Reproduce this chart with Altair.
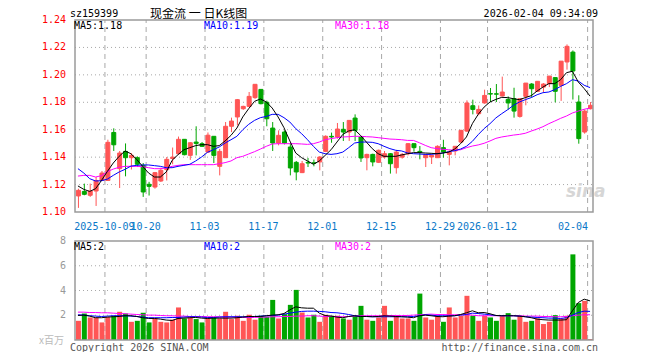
import altair as alt
import pandas as pd

# ---------------- data ----------------
opens = [1.1117, 1.1150, 1.1122, 1.1153, 1.1230, 1.1230, 1.1580, 1.1316, 1.1442, 1.1396,
         1.1396, 1.1340, 1.1202, 1.1182, 1.1226, 1.1309, 1.1390, 1.1425, 1.1530, 1.1413,
         1.1510, 1.1498, 1.1437, 1.1552, 1.1333, 1.1396, 1.1625, 1.1693, 1.1753, 1.1770,
         1.1834, 1.1894, 1.1800, 1.1612, 1.1503, 1.1583, 1.1474, 1.1362, 1.1287, 1.1362,
         1.1359, 1.1365, 1.1442, 1.1552, 1.1547, 1.1603, 1.1583, 1.1685, 1.1547, 1.1396,
         1.1420, 1.1362, 1.1401, 1.1425, 1.1323, 1.1400, 1.1425, 1.1498, 1.1442, 1.1396,
         1.1401, 1.1396, 1.1469, 1.1420, 1.1445, 1.1510, 1.1590, 1.1775, 1.1717, 1.1795,
         1.1863, 1.1862, 1.1846, 1.1821, 1.1826, 1.1697, 1.1843, 1.1933, 1.1880, 1.1911,
         1.1936, 1.1980, 1.1923, 1.2094, 1.2166, 1.1802, 1.1583, 1.1753]
closes = [1.1158, 1.1129, 1.1153, 1.1230, 1.1284, 1.1508, 1.1490, 1.1430, 1.1396, 1.1413,
          1.1348, 1.1146, 1.1187, 1.1287, 1.1304, 1.1384, 1.1400, 1.1530, 1.1418, 1.1505,
          1.1500, 1.1479, 1.1560, 1.1413, 1.1442, 1.1625, 1.1663, 1.1819, 1.1770, 1.1843,
          1.1931, 1.1790, 1.1680, 1.1503, 1.1559, 1.1503, 1.1321, 1.1292, 1.1352, 1.1357,
          1.1355, 1.1401, 1.1552, 1.1547, 1.1605, 1.1583, 1.1668, 1.1595, 1.1394, 1.1420,
          1.1365, 1.1450, 1.1425, 1.1352, 1.1437, 1.1420, 1.1498, 1.1469, 1.1435, 1.1418,
          1.1413, 1.1479, 1.1437, 1.1437, 1.1479, 1.1595, 1.1795, 1.1748, 1.1748, 1.1850,
          1.1860, 1.1859, 1.1875, 1.1795, 1.1736, 1.1826, 1.1940, 1.1899, 1.1953, 1.1933,
          1.1991, 1.1880, 1.2100, 1.2208, 1.2028, 1.1535, 1.1736, 1.1778]
highs = [1.1170, 1.1207, 1.1207, 1.1255, 1.1299, 1.1527, 1.1610, 1.1445, 1.1500, 1.1430,
         1.1406, 1.1357, 1.1220, 1.1292, 1.1323, 1.1401, 1.1470, 1.1550, 1.1530, 1.1510,
         1.1625, 1.1510, 1.1580, 1.1552, 1.1460, 1.1656, 1.1688, 1.1824, 1.1775, 1.1875,
         1.1931, 1.1894, 1.1812, 1.1656, 1.1595, 1.1595, 1.1503, 1.1372, 1.1372, 1.1394,
         1.1382, 1.1406, 1.1559, 1.1579, 1.1649, 1.1656, 1.1668, 1.1712, 1.1552, 1.1425,
         1.1425, 1.1455, 1.1445, 1.1430, 1.1450, 1.1430, 1.1503, 1.1498, 1.1481, 1.1418,
         1.1413, 1.1486, 1.1527, 1.1450, 1.1479, 1.1600, 1.1814, 1.1819, 1.1777, 1.1892,
         1.1904, 1.1933, 1.1987, 1.1843, 1.1906, 1.1826, 1.1940, 1.1940, 1.1953, 1.1940,
         1.1991, 1.1980, 1.2100, 1.2222, 1.2178, 1.1851, 1.1748, 1.1802]
lows = [1.1030, 1.1122, 1.1110, 1.1044, 1.1226, 1.1230, 1.1445, 1.1175, 1.1260, 1.1310,
        1.1328, 1.1110, 1.1120, 1.1170, 1.1219, 1.1230, 1.1348, 1.1420, 1.1413, 1.1380,
        1.1413, 1.1474, 1.1432, 1.1357, 1.1267, 1.1396, 1.1583, 1.1632, 1.1745, 1.1765,
        1.1825, 1.1785, 1.1625, 1.1445, 1.1486, 1.1493, 1.1267, 1.1231, 1.1284, 1.1328,
        1.1333, 1.1304, 1.1437, 1.1505, 1.1535, 1.1518, 1.1518, 1.1518, 1.1365, 1.1304,
        1.1333, 1.1357, 1.1389, 1.1280, 1.1280, 1.1389, 1.1413, 1.1440, 1.1384, 1.1328,
        1.1350, 1.1396, 1.1396, 1.1340, 1.1413, 1.1503, 1.1583, 1.1712, 1.1705, 1.1790,
        1.1802, 1.1802, 1.1843, 1.1746, 1.1688, 1.1688, 1.1778, 1.1836, 1.1875, 1.1875,
        1.1911, 1.1800, 1.1810, 1.2038, 1.1820, 1.1498, 1.1571, 1.1748]
volumes = [1.55, 2.14, 1.82, 1.82, 1.42, 1.85, 1.96, 2.28, 2.14, 1.47,
           1.55, 2.20, 1.42, 1.74, 1.47, 1.42, 1.64, 2.63, 1.74, 1.82,
           1.69, 1.42, 1.82, 1.82, 1.74, 2.28, 1.69, 1.96, 1.55, 2.04,
           1.64, 1.96, 1.88, 3.24, 1.74, 2.09, 2.84, 4.05, 2.22, 1.82,
           2.04, 1.47, 2.04, 1.96, 1.96, 1.74, 1.64, 1.96, 2.76, 1.64,
           1.55, 1.82, 2.76, 1.55, 1.96, 1.74, 1.74, 1.55, 3.75, 1.82,
           1.64, 1.90, 1.47, 2.63, 1.82, 1.96, 3.57, 1.96, 1.55, 1.96,
           1.82, 1.55, 1.96, 2.17, 1.64, 1.96, 1.47, 1.55, 1.74, 1.29,
           1.47, 2.01, 1.74, 1.96, 6.92, 2.98, 3.16, 0.08]
ma5 = [1.1190, 1.1165, 1.1150, 1.1170, 1.1230, 1.1296, 1.1357, 1.1406, 1.1445, 1.1425,
       1.1382, 1.1333, 1.1284, 1.1255, 1.1255, 1.1292, 1.1377, 1.1418, 1.1454, 1.1469,
       1.1484, 1.1491, 1.1491, 1.1479, 1.1484, 1.1518, 1.1559, 1.1612, 1.1693, 1.1753,
       1.1807, 1.1824, 1.1802, 1.1758, 1.1693, 1.1615, 1.1518, 1.1430, 1.1396, 1.1372,
       1.1348, 1.1372, 1.1413, 1.1454, 1.1510, 1.1566, 1.1591, 1.1600, 1.1559, 1.1510,
       1.1462, 1.1425, 1.1406, 1.1406, 1.1406, 1.1416, 1.1425, 1.1433, 1.1433, 1.1430,
       1.1428, 1.1425, 1.1430, 1.1437, 1.1459, 1.1498, 1.1547, 1.1644, 1.1712, 1.1765,
       1.1802, 1.1821, 1.1836, 1.1834, 1.1826, 1.1819, 1.1834, 1.1848, 1.1882, 1.1911,
       1.1936, 1.1936, 1.1965, 1.2016, 1.2026, 1.1948, 1.1900, 1.1845]
ma10 = [1.1316, 1.1284, 1.1243, 1.1226, 1.1228, 1.1240, 1.1267, 1.1292, 1.1311, 1.1335,
        1.1340, 1.1343, 1.1343, 1.1338, 1.1333, 1.1323, 1.1323, 1.1333, 1.1340, 1.1348,
        1.1372, 1.1401, 1.1435, 1.1454, 1.1474, 1.1503, 1.1527, 1.1552, 1.1600, 1.1639,
        1.1668, 1.1688, 1.1697, 1.1712, 1.1712, 1.1688, 1.1656, 1.1608, 1.1571, 1.1527,
        1.1479, 1.1437, 1.1425, 1.1420, 1.1425, 1.1437, 1.1469, 1.1503, 1.1510, 1.1510,
        1.1508, 1.1498, 1.1479, 1.1462, 1.1450, 1.1445, 1.1430, 1.1425, 1.1423, 1.1420,
        1.1420, 1.1425, 1.1430, 1.1440, 1.1447, 1.1459, 1.1479, 1.1515, 1.1564, 1.1608,
        1.1644, 1.1686, 1.1717, 1.1746, 1.1778, 1.1802, 1.1819, 1.1834, 1.1855, 1.1870,
        1.1875, 1.1892, 1.1916, 1.1936, 1.1965, 1.1955, 1.1924, 1.1907]
ma30 = [1.1262, 1.1267, 1.1267, 1.1255, 1.1265, 1.1294, 1.1313, 1.1326, 1.1333, 1.1333,
        1.1333, 1.1330, 1.1323, 1.1316, 1.1316, 1.1321, 1.1333, 1.1340, 1.1345, 1.1345,
        1.1345, 1.1345, 1.1345, 1.1345, 1.1352, 1.1360, 1.1372, 1.1396, 1.1406, 1.1423,
        1.1440, 1.1459, 1.1479, 1.1496, 1.1498, 1.1498, 1.1498, 1.1498, 1.1496, 1.1493,
        1.1498, 1.1510, 1.1527, 1.1535, 1.1542, 1.1547, 1.1549, 1.1552, 1.1552, 1.1549,
        1.1547, 1.1542, 1.1537, 1.1532, 1.1530, 1.1527, 1.1522, 1.1522, 1.1505, 1.1486,
        1.1469, 1.1462, 1.1457, 1.1454, 1.1450, 1.1454, 1.1469, 1.1481, 1.1489, 1.1501,
        1.1518, 1.1537, 1.1547, 1.1554, 1.1561, 1.1566, 1.1574, 1.1590, 1.1605, 1.1622,
        1.1644, 1.1663, 1.1683, 1.1700, 1.1722, 1.1736, 1.1749, 1.1758]
vma5 = [1.98, 2.01, 1.93, 1.80, 1.80, 1.85, 1.88, 1.90, 1.96, 1.96,
        1.90, 1.80, 1.74, 1.74, 1.69, 1.61, 1.58, 1.74, 1.77, 1.80,
        1.82, 1.77, 1.74, 1.77, 1.77, 1.77, 1.77, 1.80, 1.85, 1.90,
        1.90, 1.90, 1.96, 2.01, 2.04, 2.14, 2.44, 2.68, 2.60, 2.57,
        2.57, 2.17, 1.98, 1.93, 1.85, 1.80, 1.90, 1.96, 1.90, 1.90,
        1.88, 1.90, 1.96, 1.93, 1.90, 1.88, 1.85, 1.80, 1.96, 2.01,
        1.96, 1.90, 1.88, 1.93, 1.96, 2.06, 2.20, 2.36, 2.20, 2.22,
        2.12, 1.98, 1.96, 1.96, 1.96, 1.93, 1.88, 1.80, 1.69, 1.64,
        1.61, 1.61, 1.61, 1.64, 2.36, 3.03, 3.30, 3.16]
vma10 = [2.04, 2.01, 1.96, 1.93, 1.90, 1.93, 1.96, 1.96, 1.96, 1.93,
         1.90, 1.85, 1.80, 1.80, 1.80, 1.80, 1.82, 1.82, 1.85, 1.88,
         1.88, 1.85, 1.82, 1.82, 1.85, 1.88, 1.88, 1.88, 1.88, 1.88,
         1.90, 1.93, 1.96, 1.98, 2.01, 2.09, 2.17, 2.25, 2.31, 2.33,
         2.33, 2.31, 2.28, 2.22, 2.20, 2.14, 2.06, 1.96, 1.90, 1.90,
         1.88, 1.88, 1.88, 1.88, 1.88, 1.88, 1.88, 1.90, 1.96, 2.04,
         2.01, 1.96, 1.96, 1.96, 1.96, 2.01, 2.06, 2.17, 2.14, 2.09,
         2.04, 1.98, 1.96, 1.96, 1.96, 1.93, 1.88, 1.85, 1.82, 1.80,
         1.77, 1.77, 1.74, 1.80, 2.01, 2.22, 2.33, 2.31]
vma30 = [2.25, 2.25, 2.22, 2.22, 2.20, 2.20, 2.17, 2.14, 2.12, 2.09,
         2.06, 2.04, 2.01, 2.01, 1.98, 1.96, 1.96, 1.93, 1.93, 1.90,
         1.90, 1.90, 1.88, 1.88, 1.88, 1.85, 1.85, 1.85, 1.82, 1.82,
         1.82, 1.85, 1.85, 1.88, 1.88, 1.90, 1.90, 1.93, 1.93, 1.96,
         1.96, 1.93, 1.90, 1.90, 1.90, 1.88, 1.90, 1.93, 1.96, 1.96,
         1.96, 1.96, 1.96, 1.98, 1.98, 1.98, 1.98, 2.01, 2.04, 2.06,
         2.09, 2.06, 2.06, 2.04, 2.04, 2.04, 2.04, 2.01, 1.96, 1.96,
         1.96, 1.96, 1.96, 1.96, 1.96, 1.96, 1.93, 1.93, 1.93, 1.90,
         1.90, 1.88, 1.88, 1.90, 1.96, 2.01, 2.04, 2.04]

tick_idx = [5, 12, 22, 32, 42, 52, 62, 70, 87]
tick_lbl = ["2025-10-09", "10-20", "11-03", "11-17", "12-01", "12-15",
            "12-29", "2026-01-12", "02-04"]
price_ticks = [1.10, 1.12, 1.14, 1.16, 1.18, 1.20, 1.22, 1.24]
price_grid = [1.12, 1.14, 1.16, 1.18, 1.20, 1.22]
vol_ticks = [2, 4, 6, 8]
vol_grid = [2, 4, 6]

# ---------------- styling ----------------
RED = "#ff5555"
GREEN = "#00a600"
MONO = "DejaVu Sans Mono"
CJK = "Noto Sans CJK SC"
FRAME = "#9a9a9a"
GRID = "#a8a8a8"

n = len(opens)
df = pd.DataFrame({
    "i": list(range(n)), "open": opens, "close": closes, "high": highs, "low": lows,
    "vol": volumes, "ma5": ma5, "ma10": ma10, "ma30": ma30,
    "vma5": vma5, "vma10": vma10, "vma30": vma30,
})
df["col"] = [RED if c >= o else GREEN for o, c in zip(opens, closes)]

xs = alt.Scale(domain=[-0.5, n - 0.5], nice=False, zero=False)
ps = alt.Scale(domain=[1.10, 1.24], range=[192, 0], nice=False, zero=False)
vs = alt.Scale(domain=[0, 8], range=[320, 221], nice=False, zero=False)

base = alt.Chart(df)
X = alt.X("i:Q", scale=xs, axis=None)
COL = alt.Color("col:N", scale=None, legend=None)
STK = alt.Stroke("col:N", scale=None, legend=None)

grid_df = pd.DataFrame({"g": [t - 0.5 for t in tick_idx], "plo": 1.10, "phi": 1.24,
                        "vlo": 0.0, "vhi": 8.0})
frame_df = pd.DataFrame({"x0": [-0.5], "x1": [n - 0.5], "plo": [1.10], "phi": [1.24],
                         "vlo": [0.0], "vhi": [8.0]})


def txt(t, x, y, color, size=10, align="left", font=MONO, baseline="middle", **kw):
    return alt.Chart(pd.DataFrame({"t": [t]})).mark_text(
        align=align, baseline=baseline, font=font, fontSize=size, color=color, **kw
    ).encode(x=alt.value(x), y=alt.value(y), text="t:N")


# ---------------- price panel ----------------
p_hgrid = alt.Chart(pd.DataFrame({"p": price_grid, "a": -0.5, "b": n - 0.5})).mark_rule(
    color=GRID, strokeWidth=1, strokeDash=[1, 3]
).encode(x=alt.X("a:Q", scale=xs, axis=None), x2="b:Q",
         y=alt.Y("p:Q", scale=ps, axis=None))
p_vgrid = alt.Chart(grid_df).mark_rule(
    color=GRID, strokeWidth=1, strokeDash=[5, 4], xOffset=0.5
).encode(x=alt.X("g:Q", scale=xs, axis=None),
         y=alt.Y("plo:Q", scale=ps, axis=None), y2="phi:Q")
p_frame = alt.Chart(frame_df).mark_rect(
    fillOpacity=0, stroke=FRAME, strokeWidth=1.5
).encode(x=alt.X("x0:Q", scale=xs, axis=None), x2="x1:Q",
         y=alt.Y("plo:Q", scale=ps, axis=None), y2="phi:Q")

wicks = base.mark_rule(strokeWidth=1, xOffset=0.5).encode(
    x=X, y=alt.Y("low:Q", scale=ps, axis=None), y2="high:Q", color=COL)
bodies = base.mark_bar(size=4, strokeWidth=1, xOffset=0.5).encode(
    x=X, y=alt.Y("open:Q", scale=ps, axis=None), y2="close:Q", color=COL, stroke=STK)


def pline(field, color):
    return base.mark_line(strokeWidth=1, color=color).encode(
        x=X, y=alt.Y(f"{field}:Q", scale=ps, axis=None))


p_labels = alt.Chart(pd.DataFrame({"p": price_ticks})).mark_text(
    align="right", baseline="middle", font=MONO, fontSize=10, color="#ff0000"
).encode(x=alt.value(-4), y=alt.Y("p:Q", scale=ps, axis=None),
         text=alt.Text("p:Q", format=".2f"))

date_df = pd.DataFrame({"g": [t - 0.5 for t in tick_idx], "lbl": tick_lbl})
d_center = alt.Chart(date_df.iloc[:-1]).mark_text(
    align="center", baseline="middle", font=MONO, fontSize=10, color="#0a78c8"
).encode(x=alt.X("g:Q", scale=xs, axis=None), y=alt.value(207), text="lbl:N")
d_right = alt.Chart(date_df.iloc[-1:]).mark_text(
    align="right", baseline="middle", font=MONO, fontSize=10, color="#0a78c8", dx=1
).encode(x=alt.X("g:Q", scale=xs, axis=None), y=alt.value(207), text="lbl:N")

price_panel = alt.layer(
    p_hgrid, p_vgrid,
    txt("sina", 496, 172, "#d6d6d6", size=17, font="DejaVu Sans", fontStyle="italic",
        fontWeight="bold"),
    wicks, bodies,
    pline("ma30", "#ff00ff"), pline("ma10", "#0000ff"), pline("ma5", "#000000"),
    p_frame, p_labels, d_center, d_right,
    txt("MA5:1.18", 4, 6, "#000000"),
    txt("MA10:1.19", 134, 6, "#0000ff"),
    txt("MA30:1.18", 265, 6, "#ff00ff"),
    txt("sz159399", 0, -6, "#000000"),
    txt("现金流  一  日K线图", 80, -2.5, "#000000", size=12, font=CJK,
        baseline="alphabetic"),
    txt("2026-02-04 09:34:09", 528, -6, "#000000", align="right"),
)

# ---------------- volume panel ----------------
v_hgrid = alt.Chart(pd.DataFrame({"v": vol_grid, "a": -0.5, "b": n - 0.5})).mark_rule(
    color=GRID, strokeWidth=1, strokeDash=[1, 3]
).encode(x=alt.X("a:Q", scale=xs, axis=None), x2="b:Q",
         y=alt.Y("v:Q", scale=vs, axis=None))
v_vgrid = alt.Chart(grid_df).mark_rule(
    color=GRID, strokeWidth=1, strokeDash=[5, 4], xOffset=0.5
).encode(x=alt.X("g:Q", scale=xs, axis=None),
         y=alt.Y("vlo:Q", scale=vs, axis=None), y2="vhi:Q")
v_frame = alt.Chart(frame_df).mark_rect(
    fillOpacity=0, stroke=FRAME, strokeWidth=1.5
).encode(x=alt.X("x0:Q", scale=xs, axis=None), x2="x1:Q",
         y=alt.Y("vlo:Q", scale=vs, axis=None), y2="vhi:Q")
vbars = base.mark_bar(size=5, xOffset=0.5).encode(
    x=X, y=alt.Y("vol:Q", scale=vs, axis=None), color=COL)


def vline(field, color):
    return base.mark_line(strokeWidth=1, color=color).encode(
        x=X, y=alt.Y(f"{field}:Q", scale=vs, axis=None))


v_labels = alt.Chart(pd.DataFrame({"v": vol_ticks})).mark_text(
    align="right", baseline="middle", font=MONO, fontSize=10, color="#999999"
).encode(x=alt.value(-4), y=alt.Y("v:Q", scale=vs, axis=None), text="v:Q")

vol_panel = alt.layer(
    v_hgrid, v_vgrid, vbars,
    vline("vma30", "#ff00ff"), vline("vma10", "#0000ff"), vline("vma5", "#000000"),
    v_frame, v_labels,
    txt("MA5:2", 4, 227, "#000000"),
    txt("MA10:2", 134, 227, "#0000ff"),
    txt("MA30:2", 265, 227, "#ff00ff"),
    txt("x百万", -6, 321, "#bbbbbb", align="right", font=CJK),
    txt("Copyright 2026 SINA.COM", 0, 328, "#555555"),
    txt("http://finance.sina.com.cn", 528, 328, "#555555", align="right"),
)

chart = alt.layer(price_panel, vol_panel).resolve_scale(y="independent").properties(
    width=528, height=320,
    autosize=alt.AutoSizeParams(type="none"),
    padding={"left": 62, "top": 12, "right": 54, "bottom": 12},
).configure_view(strokeWidth=0)

chart.save("out.html", embed_options={"renderer": "svg", "actions": False})
